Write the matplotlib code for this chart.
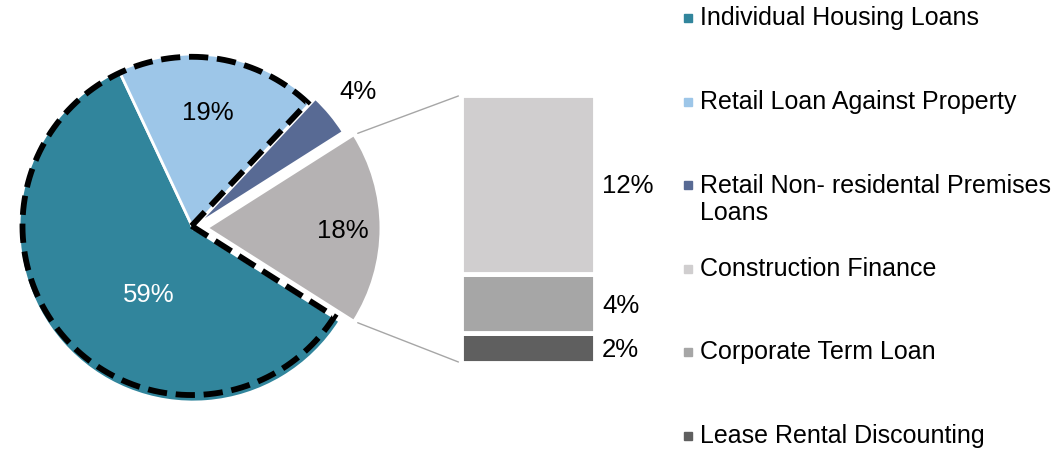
import numpy as np
import matplotlib.pyplot as plt
from matplotlib.patches import Rectangle
from matplotlib.patches import ConnectionPatch

plt.rcParams['font.family'] = ['Liberation Sans', 'DejaVu Sans']

# ---- data ----
pie_labels = ['Individual Housing Loans', 'Retail Loan Against Property',
              'Retail Non- residental Premises\nLoans', 'Others']
pie_values = [59, 19, 4, 18]
pie_colors = ['#31859C', '#9DC6E8', '#586A94', '#B5B2B3']

bar_labels = ['Construction Finance', 'Corporate Term Loan', 'Lease Rental Discounting']
bar_values = [12, 4, 2]
bar_colors = ['#D0CECF', '#A6A6A6', '#5F5F5F']

# ---- layout (pixels) ----
W, H = 1061, 451
R = 174                 # pie radius in px
CX, CY = 193, 228       # pie centre, image coords (y down)

fig = plt.figure(figsize=(W / 100, H / 100), dpi=100)
ax = fig.add_axes([0, 0, 1, 1])

start = -pie_values[-1] / sum(pie_values) * 360 / 2
wedges, _ = ax.pie(pie_values, colors=pie_colors, startangle=start,
                   counterclock=False, explode=[0, 0, 0.025, 0.08],
                   wedgeprops=dict(edgecolor='white', linewidth=2))
ax.set_xlim(-CX / R, (W - CX) / R)
ax.set_ylim(-(H - CY) / R, CY / R)
ax.axis('off')

# dashed outline round the first two slices
w0, w1 = wedges[0], wedges[1]
t_lo, t_hi = w1.theta1 % 360, w0.theta2 % 360
th = np.radians(np.linspace(t_lo, t_hi, 300))
rr = 0.972
ox, oy = -0.008, 0.012
xs = np.concatenate([[ox], ox + rr * np.cos(th), [ox]])
ys = np.concatenate([[oy], oy + rr * np.sin(th), [oy]])
ax.plot(xs, ys, color='black', lw=4.2, dashes=(3.3, 1.5), zorder=5,
        dash_capstyle='butt', dash_joinstyle='miter')

# slice labels
lab_pos = [(-0.253, -0.385), (0.083, 0.661), (0.948, 0.782), (0.862, -0.017)]
lab_col = ['white', 'black', 'black', 'black']
for v, (lx, ly), c in zip(pie_values, lab_pos, lab_col):
    ax.text(lx, ly, f'{v}%', ha='center', va='center', fontsize=18.5, color=c, zorder=6)

# stacked bar for the split-off slice
bx0, bx1, by0, by1 = 461, 595, 95, 363
bax = fig.add_axes([bx0 / W, 1 - by1 / H, (bx1 - bx0) / W, (by1 - by0) / H])
bottoms = np.cumsum([0] + bar_values[::-1][:-1])
for v, b, c in zip(bar_values[::-1], bottoms, bar_colors[::-1]):
    bax.bar(0, v, bottom=b, width=1, color=c, edgecolor='white', linewidth=3.5)
    bax.annotate(f'{v}%', (0.5, b + v / 2), xytext=(5, -1.5), textcoords='offset points',
                 ha='left', va='center', fontsize=18.5)
bax.set_xlim(-0.5, 0.5)
bax.set_ylim(0, sum(bar_values))
bax.axis('off')

# connector lines from the exploded slice to the bar
w3 = wedges[3]
for theta, yb in [(w3.theta2, sum(bar_values)), (w3.theta1, 0)]:
    px = w3.center[0] + w3.r * np.cos(np.radians(theta))
    py = w3.center[1] + w3.r * np.sin(np.radians(theta))
    con = ConnectionPatch(xyA=(px, py), coordsA=ax.transData,
                          xyB=(-0.5, yb), coordsB=bax.transData,
                          color='#A6A6A6', lw=1, shrinkA=3, shrinkB=2)
    fig.add_artist(con)

# legend
leg_labels = pie_labels[:3] + bar_labels
leg_colors = pie_colors[:3] + bar_colors
for i, (lab, c) in enumerate(zip(leg_labels, leg_colors)):
    yc = 18 + 83.6 * i
    fig.add_artist(Rectangle((684 / W, 1 - (yc + 4) / H), 8 / W, 8 / H,
                             transform=fig.transFigure, color=c))
    n_lines = lab.count('\n')
    fig.text(700 / W, 1 - (yc + n_lines * 14) / H, lab, ha='left', va='center',
             fontsize=18, linespacing=1.15)

fig.savefig('out.png', dpi=100)
